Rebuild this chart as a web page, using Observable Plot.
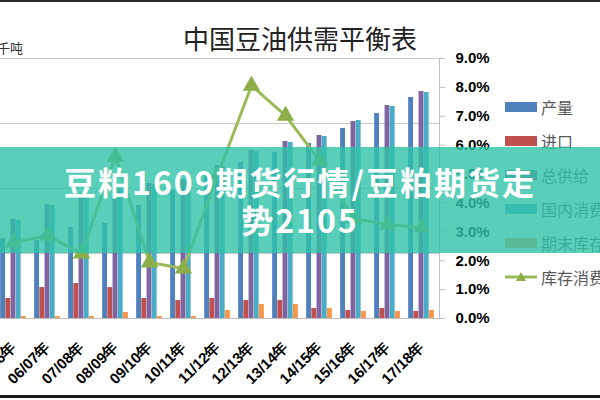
<!DOCTYPE html>
<html><head><meta charset="utf-8">
<script src="https://cdn.jsdelivr.net/npm/d3@7"></script>
<script src="https://cdn.jsdelivr.net/npm/@observablehq/plot@0.6"></script>
<style>
html,body{margin:0;padding:0;background:#fff;}
#wrap{position:relative;width:600px;height:400px;overflow:hidden;font-family:"Noto Sans CJK SC","Noto Sans",sans-serif;background:#fff;}
#chart{position:absolute;left:0;top:0;}
#title{position:absolute;left:0;width:600px;top:19px;text-align:center;font-size:26px;line-height:38px;color:#222;}
#unit{position:absolute;right:577px;top:38px;font-size:13px;color:#333;white-space:nowrap;}
.lg{position:absolute;left:505px;height:20px;display:flex;align-items:center;font-size:16px;color:#595959;white-space:nowrap;}
.sw{width:32px;height:10px;margin-right:4px;}
#banner{position:absolute;left:0;top:147px;width:600px;height:106px;background:rgba(48,194,168,0.8);display:flex;flex-direction:column;align-items:center;justify-content:center;color:#fff;font-weight:bold;font-size:32px;letter-spacing:2px;line-height:38px;text-align:center;}
#topline{position:absolute;left:0;top:0;width:600px;height:2px;background:#2a2a2a;}
#botline{position:absolute;left:0;top:395px;width:600px;height:3px;background:#1a1a1a;}
</style></head>
<body>
<div id="wrap">
  <div id="chart"></div>
  <div id="title">中国豆油供需平衡表</div>
  <div id="unit">千吨</div>
  <div id="legend"></div>
  <div id="banner"><div>豆粕1609期货行情/豆粕期货走</div><div>势2105</div></div>
  <div id="topline"></div>
  <div id="botline"></div>
</div>
<script>
// categories (marketing years)
const cats = ["05/06年","06/07年","07/08年","08/09年","09/10年","10/11年","11/12年","12/13年","13/14年","14/15年","15/16年","16/17年","17/18年"];
// thousand tonnes
const production  = [6150, 6000, 7000, 7310, 8690, 9850, 11000, 12000, 12770, 13460, 14620, 15770, 17000];
const imports     = [1540, 2380, 2690, 2380, 1540, 1380, 1540, 1380, 1380, 770, 620, 770, 540];
const totalSupply = [7620, 8770, 9620, 10000, 10380, 10690, 11770, 12920, 13620, 14080, 15150, 16380, 17460];
const consumption = [7540, 8690, 9540, 9920, 10310, 10620, 11690, 12850, 13540, 14000, 15230, 16310, 17380];
const endStocks   = [150, 150, 150, 460, 150, 150, 620, 1080, 1080, 770, 540, 540, 620];
// stock-to-use ratio, %
const ratio       = [2.63, 2.87, 2.25, 5.6, 1.94, 1.73, 4.95, 8.06, 7.02, 5.47, 3.46, 3.25, 3.15];
// axis ticks
const leftTicks  = [0, 5000, 10000, 15000, 20000];
const rightTicks = [0, 1, 2, 3, 4, 5, 6, 7, 8, 9];

const series = [
  {name: "产量",   values: production,  color: "#4f81bd"},
  {name: "进口",   values: imports,     color: "#c0504d"},
  {name: "总供给", values: totalSupply, color: "#8064a2"},
  {name: "国内消费", values: consumption, color: "#4bacc6"},
  {name: "期末库存", values: endStocks,   color: "#f79646"}
];
const lineColor = "#9bbb59";

const LEFT_MAX = 20000, RIGHT_MAX = 9, k = LEFT_MAX / RIGHT_MAX;
const xRange = [-6, 440];
const step = (xRange[1] - xRange[0]) / cats.length;
const barW = 5.2, groupW = barW * series.length;
const pad0 = (step - groupW) / 2;

const barMarks = series.map((s, i) => Plot.barY(
  cats.map((c, j) => ({cat: c, v: s.values[j]})),
  {x: "cat", y: "v", fill: s.color,
   insetLeft: pad0 + barW * i,
   insetRight: step - pad0 - barW * (i + 1)}
));
const ratioData = cats.map((c, j) => ({cat: c, r: ratio[j]}));

const chart = Plot.plot({
  width: 600, height: 400,
  marginTop: 58, marginBottom: 82, marginLeft: 0, marginRight: 161,
  style: {background: "transparent", color: "#000", fontFamily: "'Liberation Sans', Arial, sans-serif", overflow: "visible"},
  x: {type: "band", domain: cats, range: xRange, padding: 0, label: null},
  y: {domain: [0, LEFT_MAX], label: null},
  marks: [
    Plot.gridY(leftTicks, {stroke: "#c9c9c9", strokeOpacity: 1}),
    ...barMarks,
    Plot.ruleY([0], {stroke: "#bfbfbf"}),
    Plot.frame({anchor: "right", stroke: "#bfbfbf"}),
    Plot.line(ratioData, {x: "cat", y: d => d.r * k, stroke: lineColor, strokeWidth: 3}),
    Plot.dot(ratioData, {x: "cat", y: d => d.r * k, symbol: "triangle", r: 5.5, fill: "#8cae48", stroke: "#8cae48"}),
    Plot.axisY({anchor: "right", label: null, ticks: rightTicks.map(t => t * k), tickFormat: d => (d / k).toFixed(1) + "%",
      tickSize: 5, tickPadding: 11, fontSize: 15, fontWeight: "bold", stroke: "#bfbfbf"}),
    Plot.axisX({label: null, tickRotate: -45, tickSize: 0, tickPadding: 26, fontSize: 15, fontWeight: "bold"})
  ]
});
document.getElementById("chart").appendChild(chart);

// legend
const legendItems = [
  ...series.map(s => ({name: s.name, color: s.color, type: "rect"})),
  {name: "库存消费比", color: lineColor, type: "line"}
];
const lg = document.getElementById("legend");
legendItems.forEach((it, i) => {
  const d = document.createElement("div");
  d.className = "lg";
  d.style.top = (97 + i * 34) + "px";
  let sw;
  if (it.type === "rect") {
    sw = `<div class="sw" style="background:${it.color}"></div>`;
  } else {
    sw = `<svg width="32" height="12" style="margin-right:4px"><line x1="0" y1="6" x2="32" y2="6" stroke="${it.color}" stroke-width="3"/><path d="M16 1 L21 10 L11 10 Z" fill="#8cae48"/></svg>`;
  }
  d.innerHTML = sw + `<span>${it.name}</span>`;
  lg.appendChild(d);
});
</script>
</body></html>
